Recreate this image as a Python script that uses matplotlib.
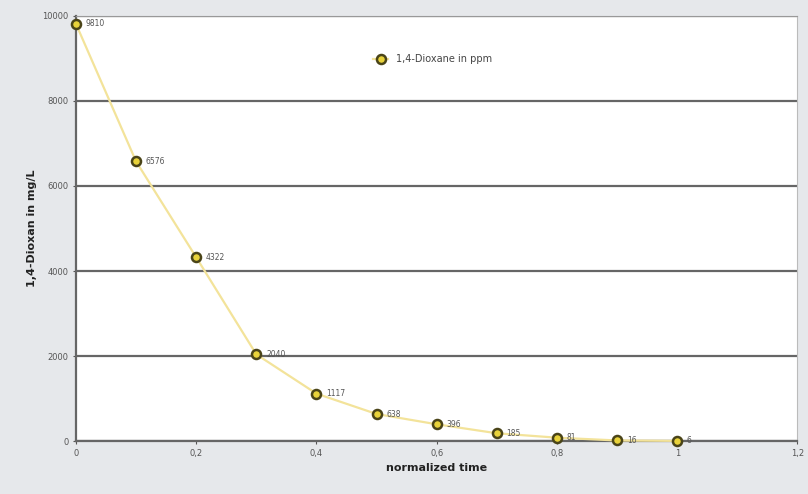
import matplotlib.pyplot as plt
from matplotlib.ticker import FuncFormatter

# data
norm_time = [0, 0.1, 0.2, 0.3, 0.4, 0.5, 0.6, 0.7, 0.8, 0.9, 1.0]
dioxane = [9810, 6576, 4322, 2040, 1117, 638, 396, 185, 81, 16, 6]
labels = ['9810', '6576', '4322', '2040', '1117', '638', '396', '185', '81', '16', '6']

bg = '#e6e8eb'
fig = plt.figure(figsize=(8.08, 4.94), dpi=100, facecolor=bg)
ax = fig.add_axes([0.094, 0.107, 0.893, 0.861])
ax.set_facecolor('white')

ax.plot(norm_time, dioxane, color='#f3e39a', lw=1.6, zorder=3,
        marker='o', markersize=6.5, markerfacecolor='#e8d23a',
        markeredgecolor='#4a4418', markeredgewidth=1.8,
        label='1,4-Dioxane in ppm', clip_on=False)
for x, y, t in zip(norm_time, dioxane, labels):
    ax.annotate(t, (x, y), xytext=(7, 0), textcoords='offset points',
                fontsize=5.5, color='#555555', va='center')

ax.set_xlim(0, 1.2)
ax.set_ylim(0, 10000)
ax.set_xticks([0, 0.2, 0.4, 0.6, 0.8, 1.0, 1.2])
ax.set_yticks([0, 2000, 4000, 6000, 8000, 10000])
ax.xaxis.set_major_formatter(FuncFormatter(lambda v, p: ('%g' % v).replace('.', ',')))
ax.tick_params(labelsize=6, colors='#555555', length=2)
ax.yaxis.grid(True, color='#666666', lw=1.6)
ax.set_axisbelow(True)
for s in ['left', 'bottom']:
    ax.spines[s].set_color('#666666')
    ax.spines[s].set_linewidth(1.6)
ax.spines['top'].set_color('#999999')
ax.spines['top'].set_linewidth(0.8)
ax.spines['right'].set_color('#bbbbbb')
ax.spines['right'].set_linewidth(0.8)

ax.set_xlabel('normalized time', fontsize=8, fontweight='bold', color='#222222')
ax.set_ylabel('1,4-Dioxan in mg/L', fontsize=8, fontweight='bold', color='#222222')

ax.legend(loc='upper left', bbox_to_anchor=(0.4, 0.93), frameon=False,
          fontsize=7, handlelength=1.5, labelcolor='#444444')

fig.savefig('out.png', dpi=100, facecolor=bg)
